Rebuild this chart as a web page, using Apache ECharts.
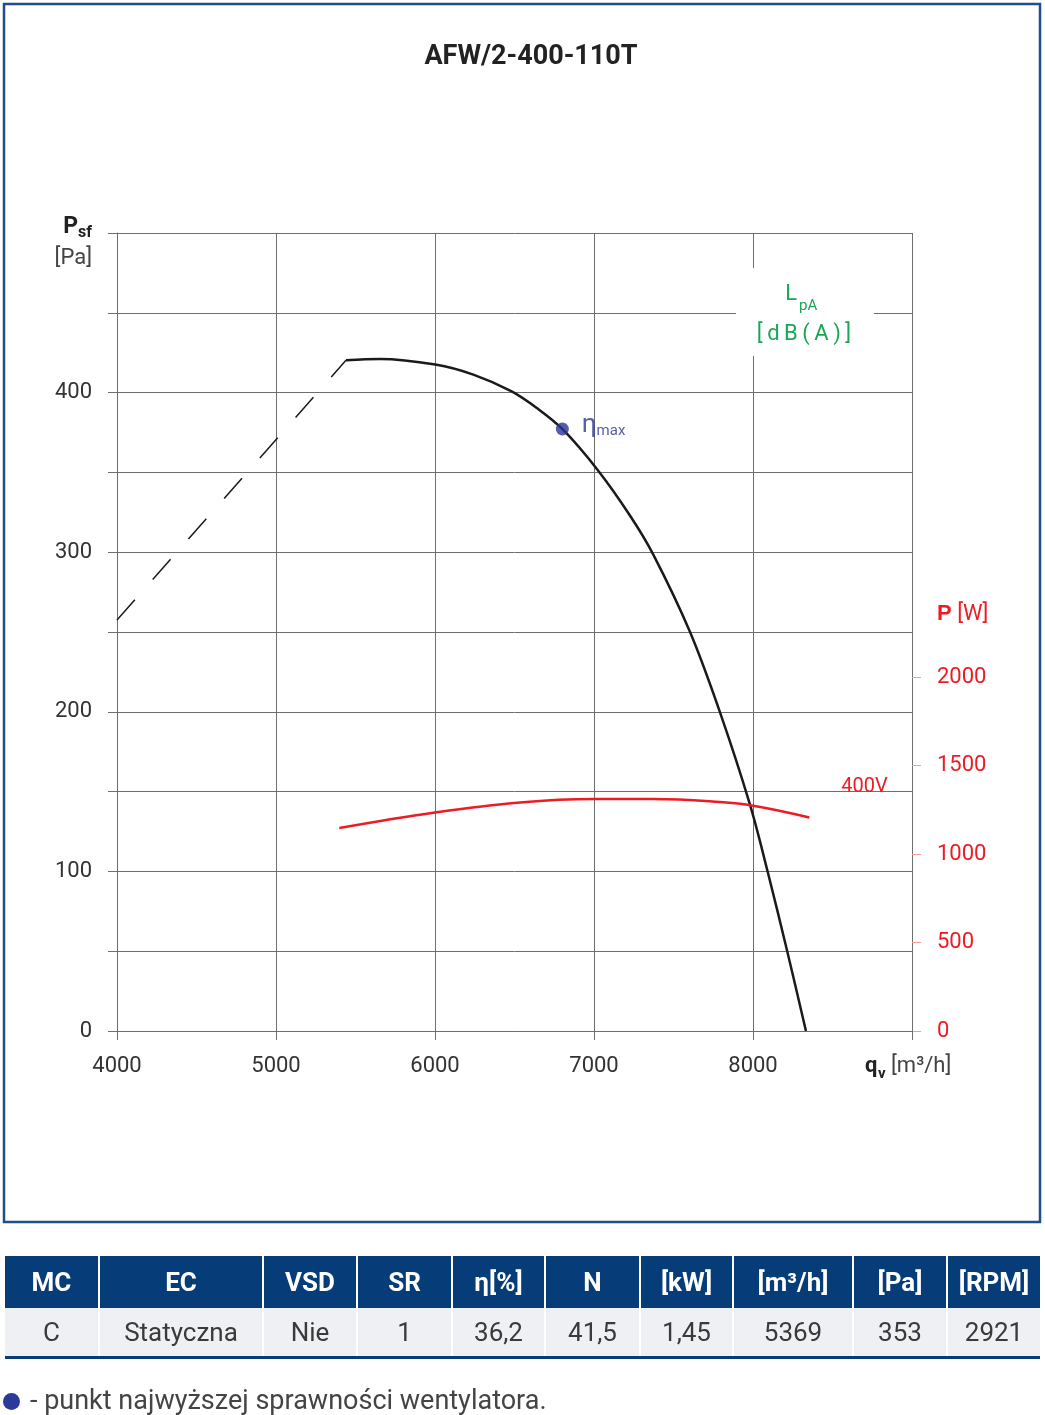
<!DOCTYPE html>
<html>
<head>
<meta charset="utf-8">
<script src="https://cdn.jsdelivr.net/npm/echarts@6/dist/echarts.min.js"></script>
<style>
  body { margin: 0; background: #fff; font-family: Roboto, sans-serif; }
  #chart { position: absolute; left: 0; top: 0; width: 1045px; height: 1415px; }
  table { position: absolute; left: 5px; top: 1256px; width: 1035px; border-collapse: collapse; table-layout: fixed; }
  th { background: #063d78; color: #fff; font: bold 26px Roboto, sans-serif; height: 52px; padding: 0; border-left: 2px solid #fff; border-right: 2px solid #fff; }
  td { background: #eef0f4; color: #3a3a3a; font: 26px Roboto, sans-serif; height: 48px; padding: 0; text-align: center; border-left: 2px solid #fff; border-right: 2px solid #fff; border-bottom: 3px solid #063d78; }
  th:first-child, td:first-child { border-left: none; }
  th:last-child, td:last-child { border-right: none; }
  #note { position: absolute; left: 3px; top: 1384px; font: 27px Roboto, sans-serif; color: #444; white-space: nowrap; }
  #note .dot { display: inline-block; width: 17px; height: 17px; border-radius: 50%; background: #2b3a9a; vertical-align: -1px; margin-right: 10px; }
</style>
</head>
<body>
<div id="chart"></div>
<table id="params"></table>
<div id="note"><span class="dot"></span>- punkt najwyższej sprawności wentylatora.</div>
<script>
// fan curve: flow [m3/h] -> static pressure [Pa]
var flow = [5440, 5654, 6002, 6241, 6482, 6640, 6801, 7023, 7226, 7373, 7604, 7792, 7981, 8092, 8216, 8333];
var pressure = [420.2, 421.1, 417.6, 411.3, 400.8, 390.4, 377.2, 351.5, 323, 298.5, 250, 199.8, 141.8, 99.9, 49.7, 0];

// unstable zone (dashed)
var stallFlow = [4000, 5440];
var stallPressure = [257.5, 420.2];

// absorbed power [W], 400V
var powerFlow = [5398, 6000, 6535, 7002, 7373, 7792, 8002, 8354];
var power = [1147, 1235, 1292, 1311, 1311, 1294, 1273, 1207];

// best efficiency point
var etaMax = [6801, 377.2];

// sound level labels along the curve
var lpaFlow = [6189, 7623, 8497];
var lpaPressure = [434.5, 289.7, 29.5];
var lpaText = ['87', '80', '80'];

// tick labels
var xTicks = [4000, 5000, 6000, 7000, 8000];
var yTicks = [0, 100, 200, 300, 400];
var pTicks = [0, 500, 1000, 1500, 2000];

// table below the chart
var tableHead = ['MC', 'EC', 'VSD', 'SR', 'η[%]', 'N', '[kW]', '[m³/h]', '[Pa]', '[RPM]'];
var tableRow = ['C', 'Statyczna', 'Nie', '1', '36,2', '41,5', '1,45', '5369', '353', '2921'];
var colWidths = [94, 164, 94, 95, 93, 95, 93, 120, 94, 93];

function pairs(xs, ys) {
  return xs.map(function (x, i) { return [x, ys[i]]; });
}
function plain(v) { return String(v); }

var gridColor = '#6e6e6e';
var green = '#1aa655';
var red = '#ec1c24';
var navy = '#2b3494';
var font = 'Roboto, sans-serif';

var myChart = echarts.init(document.getElementById('chart'), null, { renderer: 'canvas' });

myChart.setOption({
  animation: false,
  textStyle: { fontFamily: font },
  grid: { left: 117, right: 133, top: 233, bottom: 384 },
  xAxis: {
    type: 'value', min: 4000, max: 9000, interval: 1000,
    axisLine: { show: true, lineStyle: { color: gridColor, width: 1 } },
    axisTick: { show: true, length: 9, lineStyle: { color: gridColor } },
    splitLine: { show: true, lineStyle: { color: gridColor, width: 1 } },
    axisLabel: { customValues: xTicks, formatter: plain, fontSize: 22, color: '#333', margin: 24 }
  },
  yAxis: [
    {
      type: 'value', min: 0, max: 500, interval: 50,
      axisLine: { show: true, lineStyle: { color: gridColor, width: 1 } },
      axisTick: { show: true, length: 9, lineStyle: { color: gridColor } },
      splitLine: { show: true, lineStyle: { color: gridColor, width: 1 } },
      axisLabel: { customValues: yTicks, formatter: plain, fontSize: 22, color: '#333', margin: 25, padding: [5, 0, 0, 0] }
    },
    {
      type: 'value', position: 'right', min: 0, max: 4510, interval: 500,
      axisLine: { show: false },
      splitLine: { show: false },
      axisTick: { show: true, customValues: pTicks, length: 9, lineStyle: { color: '#f29a9a', width: 1 } },
      axisLabel: { customValues: pTicks, formatter: plain, fontSize: 22, color: red, margin: 25, padding: [4, 0, 0, 0] }
    }
  ],
  series: [
    {
      name: 'stall', type: 'line', symbol: 'none', silent: true,
      data: pairs(stallFlow, stallPressure),
      lineStyle: { color: '#1a1a1a', width: 1.5, type: [27, 27] }
    },
    {
      name: 'pressure', type: 'line', symbol: 'none', smooth: 0.35, smoothConstraint: false, silent: true,
      data: pairs(flow, pressure),
      lineStyle: { color: '#1a1a1a', width: 2.5 }
    },
    {
      name: 'power', type: 'line', yAxisIndex: 1, symbol: 'none', smooth: 0.4, smoothConstraint: false, silent: true,
      data: pairs(powerFlow, power),
      lineStyle: { color: red, width: 2.5 },
      endLabel: { show: true, formatter: '400V', color: red, fontSize: 20, offset: [24, -30] }
    },
    {
      name: 'lpa', type: 'scatter', symbolSize: 1, silent: true,
      itemStyle: { opacity: 0 },
      data: lpaFlow.map(function (x, i) { return { value: [x, lpaPressure[i]], name: lpaText[i] }; }),
      label: { show: true, position: 'inside', formatter: '{b}', color: green, fontSize: 20 }
    },
    {
      name: 'etaMax', type: 'scatter', symbolSize: 13, z: 5, silent: true,
      itemStyle: { color: navy },
      data: [etaMax],
      label: {
        show: true, position: 'right', distance: 13, offset: [0, -3],
        formatter: '{a|η}{b|max}',
        rich: {
          a: { fontSize: 26, color: navy, verticalAlign: 'bottom', lineHeight: 26 },
          b: { fontSize: 15, color: navy, verticalAlign: 'bottom', lineHeight: 14 }
        }
      }
    }
  ],
  graphic: [
    { type: 'rect', z: 100, silent: true,
      shape: { x: 4, y: 4, width: 1036, height: 1218 },
      style: { fill: 'none', stroke: '#1f4e8c', lineWidth: 2.5 } },
    { type: 'text', z: 100, x: 531, y: 57,
      style: { text: 'AFW/2-400-110T', font: 'bold 27px ' + font, fill: '#222', align: 'center', verticalAlign: 'middle' } },
    { type: 'text', z: 100, x: 78, y: 227,
      style: { text: 'P', font: 'bold 23px ' + font, fill: '#222', align: 'right', verticalAlign: 'middle' } },
    { type: 'text', z: 100, x: 78, y: 233,
      style: { text: 'sf', font: 'bold 16px ' + font, fill: '#222', align: 'left', verticalAlign: 'middle' } },
    { type: 'text', z: 100, x: 92, y: 258,
      style: { text: '[Pa]', font: '22px ' + font, fill: '#444', align: 'right', verticalAlign: 'middle' } },
    { type: 'text', z: 100, x: 865, y: 1066,
      style: { text: 'q', font: 'bold 22px ' + font, fill: '#222', align: 'left', verticalAlign: 'middle' } },
    { type: 'text', z: 100, x: 878, y: 1074,
      style: { text: 'v', font: 'bold 15px ' + font, fill: '#222', align: 'left', verticalAlign: 'middle' } },
    { type: 'text', z: 100, x: 891, y: 1066,
      style: { text: '[m³/h]', font: '22px ' + font, fill: '#444', align: 'left', verticalAlign: 'middle' } },
    { type: 'text', z: 100, x: 937, y: 614,
      style: { text: '{b|P} [W]', font: '22px ' + font, fill: red, align: 'left', verticalAlign: 'middle',
        rich: { b: { fontWeight: 'bold', fontSize: 22, fill: red } } } },
    { type: 'rect', z: 90, silent: true,
      shape: { x: 736, y: 268, width: 138, height: 88 },
      style: { fill: '#fff' } },
    { type: 'text', z: 100, x: 797, y: 294,
      style: { text: 'L', font: '22px ' + font, fill: green, align: 'right', verticalAlign: 'middle' } },
    { type: 'text', z: 100, x: 799, y: 306,
      style: { text: 'pA', font: '15px ' + font, fill: green, align: 'left', verticalAlign: 'middle' } },
    { type: 'text', z: 100, x: 804, y: 334,
      style: { text: '[\u2009d\u2009B\u2009(\u2009A\u2009)\u2009]', font: '22px ' + font, fill: green, align: 'center', verticalAlign: 'middle' } }
  ]
});

// table
var tbl = document.getElementById('params');
var html = '<colgroup>' + colWidths.map(function (w) { return '<col style="width:' + w + 'px">'; }).join('') + '</colgroup>';
html += '<tr>' + tableHead.map(function (h) { return '<th>' + h + '</th>'; }).join('') + '</tr>';
html += '<tr>' + tableRow.map(function (v) { return '<td>' + v + '</td>'; }).join('') + '</tr>';
tbl.innerHTML = html;

window.addEventListener('resize', myChart.resize);
</script>
</body>
</html>
